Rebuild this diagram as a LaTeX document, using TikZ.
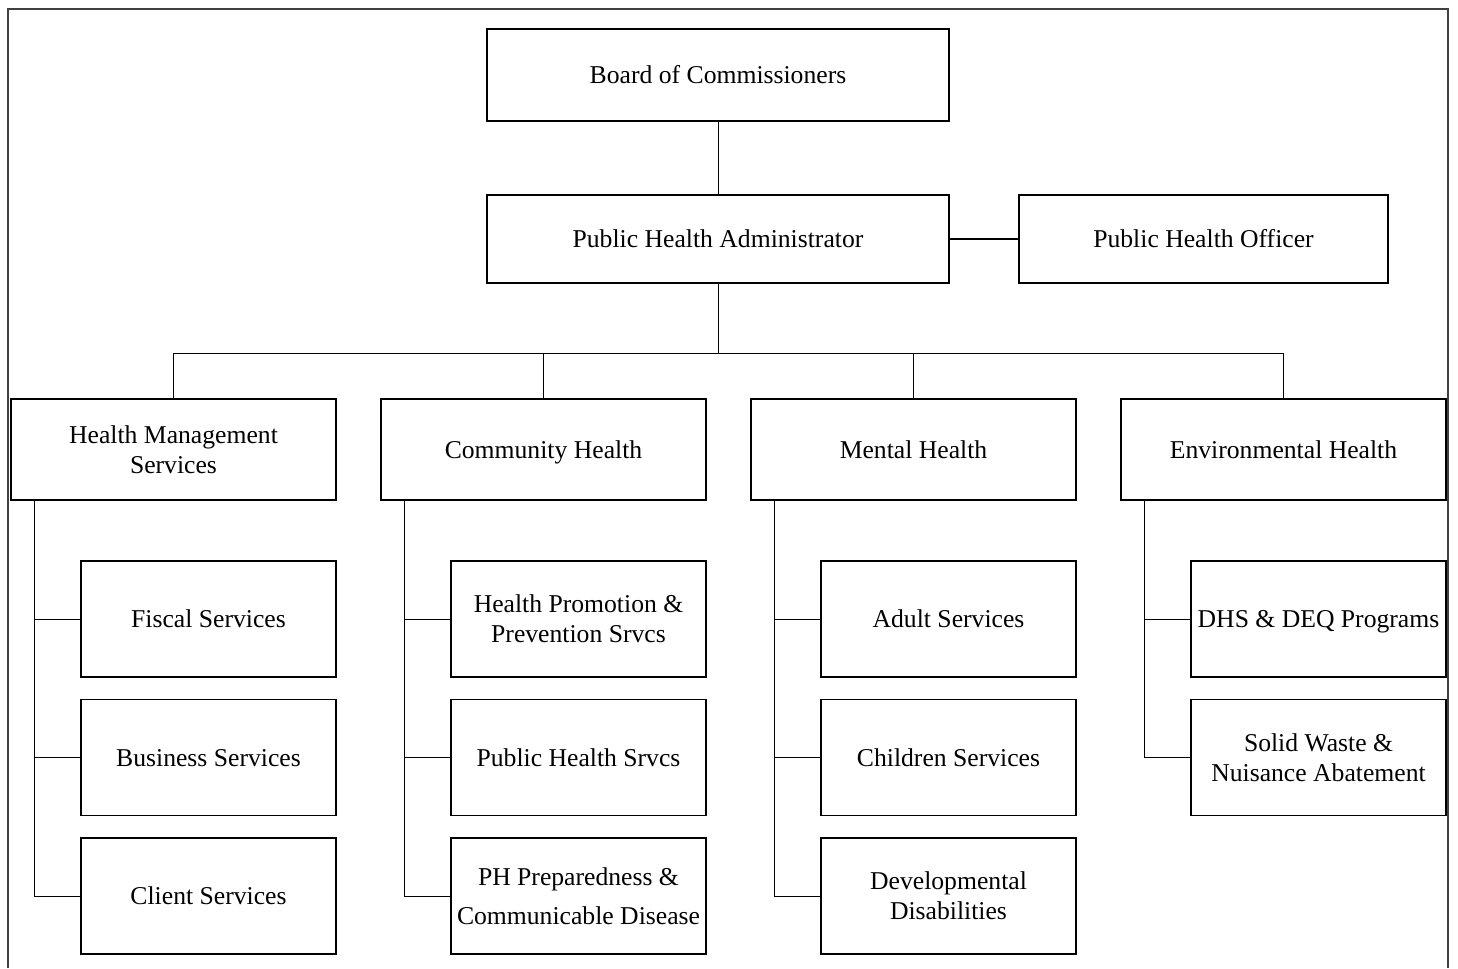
\documentclass[tikz,border=0pt]{standalone}
\usepackage{fontspec}
\setmainfont{Liberation Serif}
\usetikzlibrary{positioning}

\newcommand{\boxstrut}{\rule[-3pt]{0pt}{16pt}}

\begin{document}
\begin{tikzpicture}[node distance=2.77cm,on grid,
	box/.style={draw,line width=0.6pt,align=center,inner sep=1pt,font=\fontsize{14.6}{17}\selectfont,
		execute at begin node=\boxstrut},
	boardbox/.style={box,minimum width=9.24cm,minimum height=1.84cm},
	adminbox/.style={box,minimum width=9.24cm,minimum height=1.76cm},
	officerbox/.style={box,minimum width=7.38cm,minimum height=1.76cm},
	headbox/.style={box,minimum width=6.5cm,minimum height=2.02cm},
	subbox/.style={box,minimum width=5.1cm,minimum height=2.32cm},
	link/.style={line width=0.5pt}]
	\useasboundingbox (0,0) rectangle (29.16,-19.36);
	% outer frame, open at the bottom
	\draw[line width=0.9pt,black!75] (0.16,-19.36) -- (0.16,-0.18) -- (28.96,-0.18) -- (28.96,-19.36);

		\node[boardbox] (board) at (14.36,-1.5) {Board of Commissioners};
		\node[adminbox] (admin) [below=3.28cm of board] {Public Health Administrator};
		\node[officerbox] (officer) [right=9.71cm of admin] {Public Health Officer};

		\node[headbox] (mgmt) at (3.47,-8.99) {\boxstrut Health Management\\Services\boxstrut};
		\node[headbox] (comm) [right=7.4cm of mgmt] {Community Health};
		\node[headbox] (mental) [right=7.4cm of comm] {Mental Health};
		\node[headbox] (env) [right=7.4cm of mental] {Environmental Health};

		\node[subbox] (fiscal) [below right=3.39cm and 0.7cm of mgmt] {Fiscal Services};
		\node[subbox] (business) [below=of fiscal] {Business Services};
		\node[subbox] (client) [below=of business] {Client Services};

		\node[subbox] (promo) [below right=3.39cm and 0.7cm of comm] {\boxstrut Health Promotion \&\\Prevention Srvcs\boxstrut};
		\node[subbox] (phsrv) [below=of promo] {Public Health Srvcs};
		\node[subbox] (prep) [below=of phsrv] {\boxstrut PH Preparedness \&\\[5pt]Communicable Disease\boxstrut};

		\node[subbox] (adult) [below right=3.39cm and 0.7cm of mental] {Adult Services};
		\node[subbox] (child) [below=of adult] {Children Services};
		\node[subbox] (devel) [below=of child] {\boxstrut Developmental\\Disabilities\boxstrut};

		\node[subbox] (dhs) [below right=3.39cm and 0.7cm of env] {DHS \& DEQ Programs};
		\node[subbox] (waste) [below=of dhs] {\boxstrut Solid Waste \&\\Nuisance Abatement\boxstrut};

		% top of the chart
		\draw[link] (board) -- (admin);
		\draw[line width=1.1pt] (admin) -- (officer);
		\draw[link] (admin.south) -- ++(0,-1.4) coordinate (bus);
		\draw[link] (mgmt.north) |- (env.north |- bus) -- (env.north);
		\foreach \h in {comm,mental}
			\draw[link] (\h.north) -- (\h.north |- bus);
		\draw[line width=1pt] (mental.north |- bus) -- (admin.east |- bus);

		% spines down each division
		\draw[link] (mgmt.south west) ++(0.48,0) coordinate (s1) |- (client.west);
		\draw[link] (s1 |- fiscal.west) -- (fiscal.west);
		\draw[link] (s1 |- business.west) -- (business.west);

		\draw[link] (comm.south west) ++(0.48,0) coordinate (s2) |- (prep.west);
		\draw[link] (s2 |- promo.west) -- (promo.west);
		\draw[link] (s2 |- phsrv.west) -- (phsrv.west);

		\draw[link] (mental.south west) ++(0.48,0) coordinate (s3) |- (devel.west);
		\draw[link] (s3 |- adult.west) -- (adult.west);
		\draw[link] (s3 |- child.west) -- (child.west);

		\draw[link] (env.south west) ++(0.48,0) coordinate (s4) |- (waste.west);
		\draw[link] (s4 |- dhs.west) -- (dhs.west);
\end{tikzpicture}
\end{document}
